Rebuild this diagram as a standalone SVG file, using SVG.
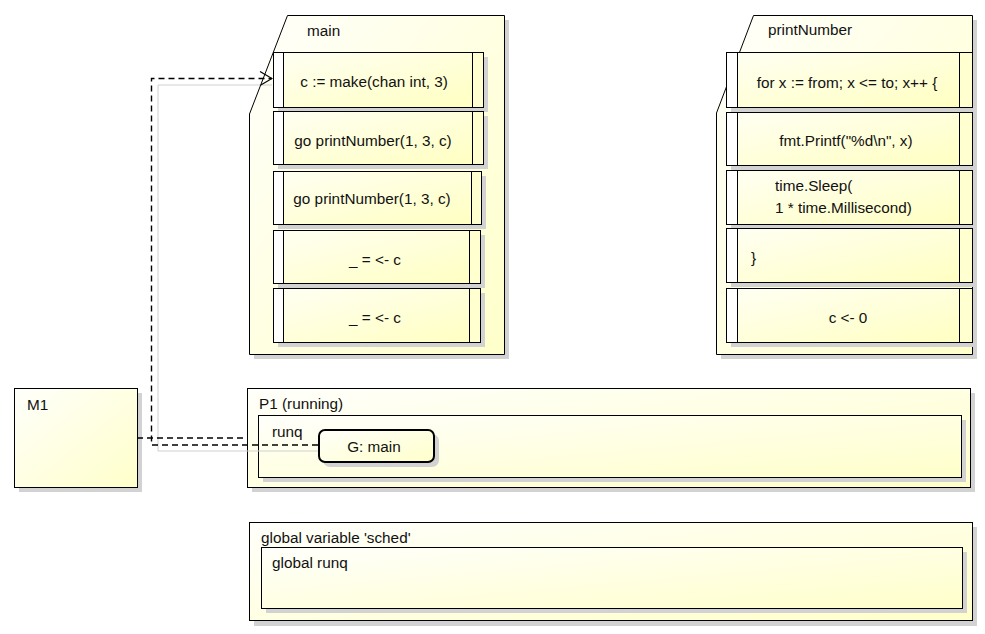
<svg xmlns="http://www.w3.org/2000/svg" width="985" height="634" viewBox="0 0 985 634">
<defs>
<linearGradient id="gF" x1="0" y1="0" x2="1" y2="1">
<stop offset="0" stop-color="#fffffb"/>
<stop offset="1" stop-color="#ffffca"/>
</linearGradient>
<linearGradient id="gS" x1="0" y1="0" x2="1" y2="1">
<stop offset="0" stop-color="#fffff4"/>
<stop offset="1" stop-color="#ffffc0"/>
</linearGradient>
<marker id="open" viewBox="0 0 14 16" refX="13" refY="8" markerWidth="14" markerHeight="16" markerUnits="userSpaceOnUse" orient="auto">
<path d="M1,1 L13,8 L1,15" fill="none" stroke="#000" stroke-width="1.2"/>
</marker>
</defs>
<style>
.frame{fill:url(#gF);stroke:#000;stroke-width:1}
.sh{fill:#d2d2d2}
.stmt{fill:url(#gS);stroke:#000;stroke-width:1}
.bar{fill:#ffffff;stroke:#000;stroke-width:1}
.rbar{fill:#ffffd0;stroke:#000;stroke-width:1}
.t{font-family:"Liberation Sans",Arial,sans-serif;font-size:15.3px;fill:#111}
.c{text-anchor:middle}
.dash{fill:none;stroke:#000;stroke-width:1.4;stroke-dasharray:6 4}
.csh{fill:none;stroke:#d0d0d0;stroke-width:1}
</style>
<rect width="985" height="634" fill="#ffffff"/>

<g id="main">
<path class="sh" d="M292,20 H509 V359 H254 V119 Z"/>
<path class="frame" d="M287.5,15.5 H504.5 V354.5 H249.5 V114 Z"/>
<text class="t" x="307" y="36">main</text>
<g id="main-s1">
<rect class="sh" x="278" y="57" width="210" height="55"/>
<rect class="stmt" x="273.5" y="52.5" width="210" height="55"/>
<rect class="bar" x="273.5" y="52.5" width="10" height="55"/>
<rect class="rbar" x="472.5" y="52.5" width="11" height="55"/>
<text class="t c" x="374" y="87">c := make(chan int, 3)</text>
</g>
<g id="main-s2">
<rect class="sh" x="278" y="116" width="210" height="53"/>
<rect class="stmt" x="273.5" y="111.5" width="210" height="53"/>
<rect class="bar" x="273.5" y="111.5" width="10" height="53"/>
<rect class="rbar" x="472.5" y="111.5" width="11" height="53"/>
<text class="t c" x="373" y="146">go printNumber(1, 3, c)</text>
</g>
<g id="main-s3">
<rect class="sh" x="278" y="176" width="208" height="53"/>
<rect class="stmt" x="273.5" y="171.5" width="208" height="53"/>
<rect class="bar" x="273.5" y="171.5" width="10" height="53"/>
<rect class="rbar" x="471.5" y="171.5" width="10" height="53"/>
<text class="t c" x="372" y="204">go printNumber(1, 3, c)</text>
</g>
<g id="main-s4">
<rect class="sh" x="278" y="235" width="207" height="53"/>
<rect class="stmt" x="273.5" y="230.5" width="207" height="53"/>
<rect class="bar" x="273.5" y="230.5" width="10" height="53"/>
<rect class="rbar" x="469.5" y="230.5" width="11" height="53"/>
<text class="t c" x="375" y="265">_ = &lt;- c</text>
</g>
<g id="main-s5">
<rect class="sh" x="278" y="293" width="207" height="54"/>
<rect class="stmt" x="273.5" y="288.5" width="207" height="54"/>
<rect class="bar" x="273.5" y="288.5" width="10" height="54"/>
<rect class="rbar" x="469.5" y="288.5" width="11" height="54"/>
<text class="t c" x="375" y="323">_ = &lt;- c</text>
</g>
</g>

<g id="printNumber">
<path class="sh" d="M758,20 H977 V359 H721 V118 Z"/>
<path class="frame" d="M753.5,15.5 H972.5 V354.5 H716.5 V113 Z"/>
<text class="t" x="768" y="35">printNumber</text>
<g id="pn-s1">
<rect class="sh" x="731" y="57" width="246" height="55"/>
<rect class="stmt" x="726.5" y="52.5" width="246" height="55"/>
<rect class="bar" x="726.5" y="52.5" width="11" height="55"/>
<rect class="rbar" x="959.5" y="52.5" width="13" height="55"/>
<text class="t c" x="847" y="88">for x := from; x &lt;= to; x++ {</text>
</g>
<g id="pn-s2">
<rect class="sh" x="731" y="117" width="246" height="53"/>
<rect class="stmt" x="726.5" y="112.5" width="246" height="53"/>
<rect class="bar" x="726.5" y="112.5" width="11" height="53"/>
<rect class="rbar" x="959.5" y="112.5" width="13" height="53"/>
<text class="t c" x="846" y="146">fmt.Printf("%d\n", x)</text>
</g>
<g id="pn-s3">
<rect class="sh" x="731" y="175" width="246" height="54"/>
<rect class="stmt" x="726.5" y="170.5" width="246" height="54"/>
<rect class="bar" x="726.5" y="170.5" width="11" height="54"/>
<rect class="rbar" x="959.5" y="170.5" width="13" height="54"/>
<text class="t" x="775" y="191">time.Sleep(</text>
<text class="t" x="775" y="213">1 * time.Millisecond)</text>
</g>
<g id="pn-s4">
<rect class="sh" x="731" y="233" width="246" height="54"/>
<rect class="stmt" x="726.5" y="228.5" width="246" height="54"/>
<rect class="bar" x="726.5" y="228.5" width="11" height="54"/>
<rect class="rbar" x="959.5" y="228.5" width="13" height="54"/>
<text class="t" x="751" y="263">}</text>
</g>
<g id="pn-s5">
<rect class="sh" x="731" y="293" width="246" height="54"/>
<rect class="stmt" x="726.5" y="288.5" width="246" height="54"/>
<rect class="bar" x="726.5" y="288.5" width="11" height="54"/>
<rect class="rbar" x="959.5" y="288.5" width="13" height="54"/>
<text class="t c" x="848" y="323">c &lt;- 0</text>
</g>
</g>

<g id="M1">
<rect class="sh" x="19" y="393" width="123" height="99"/>
<rect class="frame" x="14.5" y="388.5" width="123" height="99"/>
<text class="t" x="27" y="410">M1</text>
</g>

<g id="P1">
<rect class="sh" x="252" y="393" width="723" height="99"/>
<rect class="frame" x="247.5" y="388.5" width="723" height="99"/>
<text class="t" x="259" y="409">P1 (running)</text>
<g id="runq">
<rect class="sh" x="263" y="420" width="703" height="62"/>
<rect class="frame" x="258.5" y="415.5" width="703" height="62"/>
<text class="t" x="272" y="437">runq</text>
</g>
<g id="G_main">
<rect class="sh" x="323" y="434" width="116" height="33" rx="7"/>
<rect x="319" y="430" width="115" height="32" rx="6" fill="url(#gF)" stroke="#000" stroke-width="2"/>
<text class="t c" x="374" y="452">G: main</text>
</g>
</g>

<g id="sched">
<rect class="sh" x="254" y="527" width="723" height="99"/>
<rect class="frame" x="249.5" y="522.5" width="723" height="98"/>
<text class="t" x="261" y="543">global variable 'sched'</text>
<g id="global-runq">
<rect class="sh" x="266" y="552" width="701" height="61"/>
<rect class="frame" x="261.5" y="547.5" width="701" height="61"/>
<text class="t" x="272" y="568">global runq</text>
</g>
</g>

<g id="connectors">
<polyline class="csh" points="318,451 158,451 158,85 272,85"/>
<polyline class="dash" points="137,438 247,438"/>
<polyline class="dash" points="318,445 151.5,445 151.5,78.5 272,78.5" marker-end="url(#open)"/>
</g>
</svg>
